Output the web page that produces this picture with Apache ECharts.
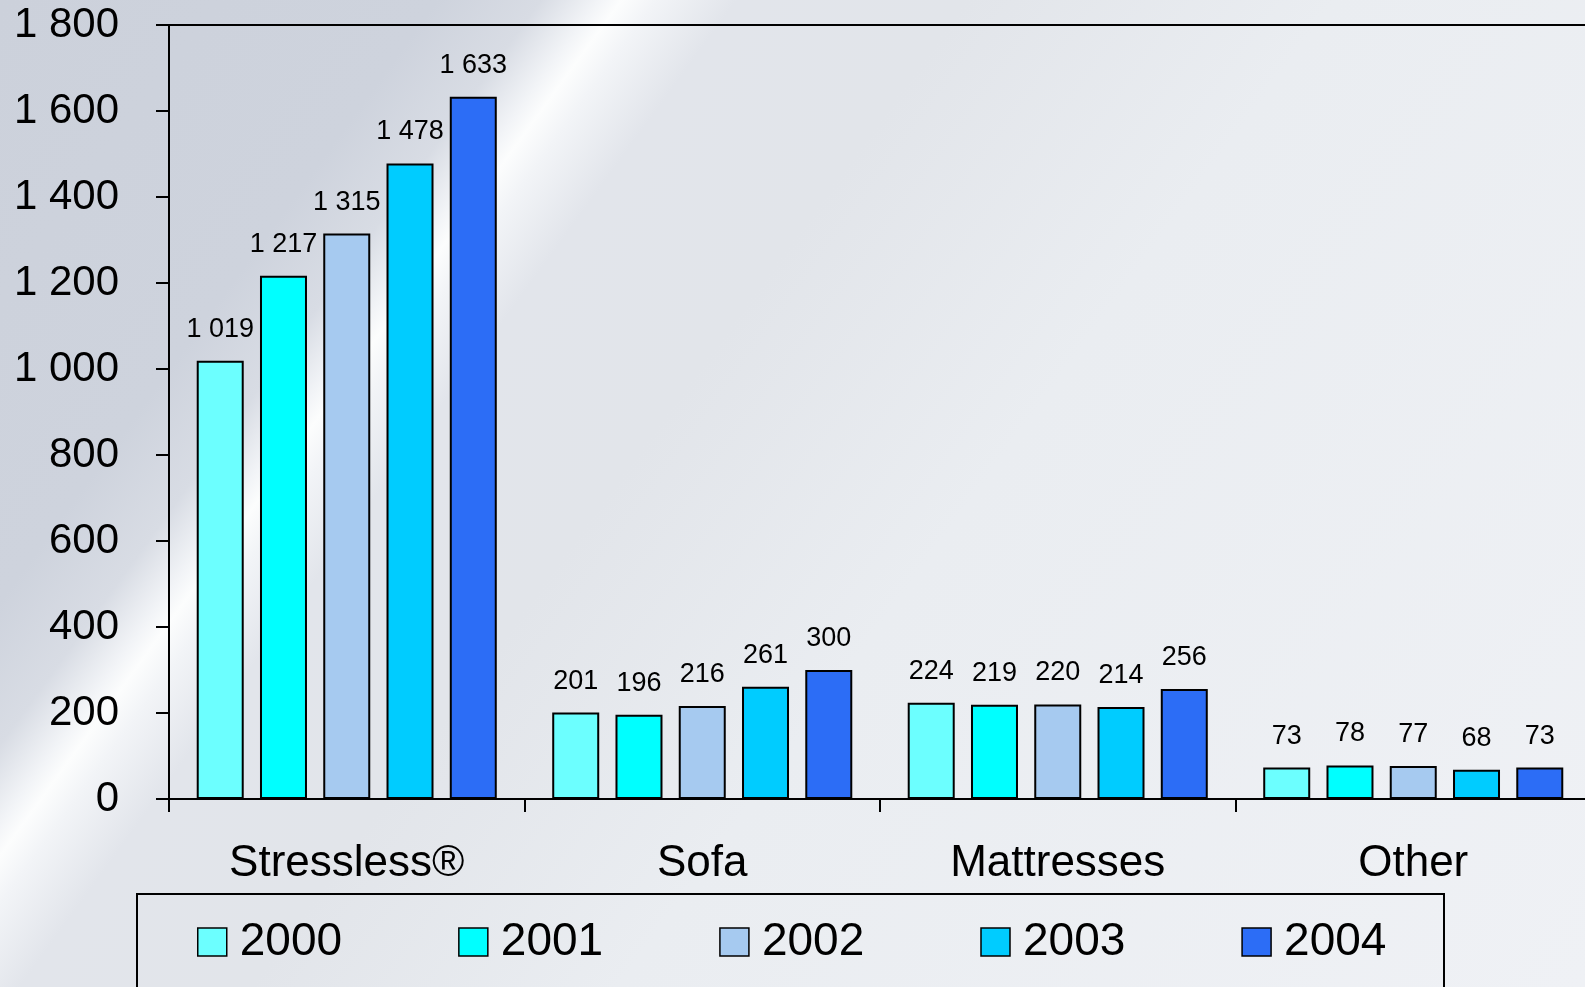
<!DOCTYPE html>
<html>
<head>
<meta charset="utf-8">
<script src="https://cdn.jsdelivr.net/npm/echarts@6/dist/echarts.min.js"></script>
<style>
html,body{margin:0;padding:0;width:1585px;height:987px;overflow:hidden;}
body{background:linear-gradient(126deg,#CCD1DB 0%,#CED3DD 19%,#D8DCE4 23.5%,#F2F4F7 26%,#FCFDFD 27%,#F2F4F7 28.5%,#E2E5EB 32%,#E2E5EA 42%,#EAEDF1 58%,#EFF1F5 100%);}
#chart{width:1585px;height:987px;}
</style>
</head>
<body>
<div id="chart"></div>
<script>
const categories = ['Stressless®', 'Sofa', 'Mattresses', 'Other'];
const years = ['2000', '2001', '2002', '2003', '2004'];
const values2000 = [1019, 201, 224, 73];
const values2001 = [1217, 196, 219, 78];
const values2002 = [1315, 216, 220, 77];
const values2003 = [1478, 261, 214, 68];
const values2004 = [1633, 300, 256, 73];
const colors = ['#6CFFFF', '#00FFFF', '#A6CAF0', '#00CCFF', '#2C6DF6'];
const yTicks = { min: 0, max: 1800, interval: 200 };

const seriesValues = [values2000, values2001, values2002, values2003, values2004];
function fmt(v) { return String(v).replace(/\B(?=(\d{3})+(?!\d))/g, ' '); }
const FONT = '"Liberation Sans", Arial, sans-serif';

const chart = echarts.init(document.getElementById('chart'), null, { renderer: 'canvas' });
chart.setOption({
  animation: false,
  backgroundColor: 'transparent',
  grid: { left: 169, width: 1422, top: 25, height: 774, show: true, borderColor: '#000', borderWidth: 2, backgroundColor: 'transparent', containLabel: false, outerBoundsMode: 'none' },
  xAxis: {
    type: 'category', data: categories,
    axisLine: { lineStyle: { color: '#000', width: 2 } },
    axisTick: { show: true, length: 13, lineStyle: { color: '#000', width: 2 } },
    axisLabel: { fontSize: 44, fontFamily: FONT, color: '#000', margin: 43 },
    splitLine: { show: false }
  },
  yAxis: {
    type: 'value', min: yTicks.min, max: yTicks.max, interval: yTicks.interval,
    axisLine: { show: true, lineStyle: { color: '#000', width: 2 } },
    axisTick: { show: true, length: 13, lineStyle: { color: '#000', width: 2 } },
    axisLabel: { fontSize: 42, fontFamily: FONT, color: '#000', margin: 50, padding: [4, 0, 0, 0], formatter: fmt },
    splitLine: { show: false }
  },
  legend: {
    data: years, left: 197, top: 919, padding: 0,
    itemWidth: 29, itemHeight: 28, itemGap: 116, icon: 'rect',
    itemStyle: { borderColor: '#000', borderWidth: 1.5 },
    textStyle: { fontSize: 46, fontFamily: FONT, color: '#000', padding: [0, 0, 0, 8] }
  },
  graphic: [{
    type: 'rect', left: 136, top: 893, z: -1,
    shape: { width: 1307, height: 200 },
    style: { fill: 'transparent', stroke: '#000', lineWidth: 2 }
  }],
  series: years.map((y, i) => ({
    name: y, type: 'bar', data: seriesValues[i],
    barWidth: 47, barGap: '34.6%',
    itemStyle: { color: colors[i], borderColor: '#000', borderWidth: 2 },
    label: { show: true, position: 'top', distance: 18, fontSize: 27, fontFamily: FONT, color: '#000', formatter: p => fmt(p.value) }
  }))
});
</script>
</body>
</html>
